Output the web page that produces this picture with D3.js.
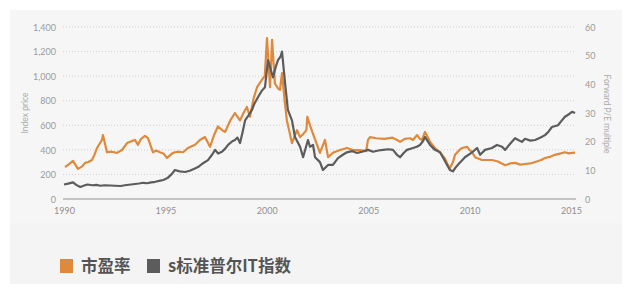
<!DOCTYPE html>
<html>
<head>
<meta charset="utf-8">
<script src="https://cdn.jsdelivr.net/npm/d3@7"></script>
<style>
  body { margin: 0; background: #fff; }
  svg { display: block; }
  .tick text { font-family: Lato, "Open Sans", sans-serif; }
</style>
</head>
<body>
<svg id="chart" width="638" height="298"></svg>
<script>
/* tick labels */
const yearTicks = [1990, 1995, 2000, 2005, 2010, 2015];
const priceTicks = [0, 200, 400, 600, 800, 1000, 1200, 1400];
const peTicks = [0, 10, 20, 30, 40, 50, 60];
const legendNames = ['市盈率', 's标准普尔IT指数'];

/* forward P/E multiple (right axis), [year, value] */
const peSeries = [
  [1990.05, 11.1], [1990.25, 12.2], [1990.44, 13.3], [1990.69, 10.5], [1990.9, 11.4],
  [1991.04, 12.6], [1991.2, 12.9], [1991.38, 13.6], [1991.5, 15.4], [1991.63, 17.8],
  [1991.87, 20.6], [1991.92, 22.3], [1992.12, 16.3], [1992.35, 16.5], [1992.61, 16.1],
  [1992.86, 17.1], [1993.11, 19.5], [1993.3, 20.1], [1993.5, 20.6], [1993.65, 18.9],
  [1993.8, 21.0], [1993.99, 22.0], [1994.14, 21.2], [1994.39, 16.3], [1994.55, 16.9],
  [1994.73, 16.3], [1994.9, 15.9], [1995.08, 14.3], [1995.25, 15.4], [1995.37, 16.1],
  [1995.6, 16.5], [1995.87, 16.3], [1996.11, 17.8], [1996.3, 18.4], [1996.46, 18.9],
  [1996.7, 20.6], [1996.95, 21.6], [1997.2, 18.2], [1997.4, 22.3], [1997.59, 25.3],
  [1997.8, 24.0], [1997.94, 23.4], [1998.2, 27.4], [1998.43, 30.0], [1998.55, 28.7],
  [1998.68, 27.4], [1998.85, 30.0], [1999.02, 32.1], [1999.17, 28.7], [1999.35, 35.1],
  [1999.52, 39.0], [1999.76, 41.6], [1999.9, 42.9], [2000.01, 56.1], [2000.16, 39.0],
  [2000.26, 55.5], [2000.4, 40.3], [2000.55, 38.6], [2000.65, 38.1], [2000.75, 43.9],
  [2000.88, 34.3], [2000.99, 27.4], [2001.1, 24.0], [2001.24, 19.5], [2001.39, 22.3],
  [2001.49, 24.0], [2001.64, 21.6], [2001.8, 22.7], [2001.95, 24.0], [2002.0, 28.7],
  [2002.13, 25.7], [2002.3, 22.3], [2002.48, 18.9], [2002.62, 16.1], [2002.87, 20.6],
  [2003.02, 14.6], [2003.26, 16.1], [2003.61, 17.1], [2003.95, 17.8], [2004.25, 17.1],
  [2004.6, 17.1], [2004.9, 16.7], [2004.99, 20.6], [2005.09, 21.6], [2005.4, 21.2],
  [2005.8, 21.0], [2006.2, 21.4], [2006.42, 20.6], [2006.57, 19.9], [2006.8, 21.0],
  [2007.06, 21.2], [2007.21, 20.6], [2007.41, 22.3], [2007.55, 21.0], [2007.65, 20.6],
  [2007.8, 23.4], [2007.95, 21.4], [2008.05, 19.9], [2008.29, 17.8], [2008.54, 16.3],
  [2008.79, 14.1], [2008.89, 12.4], [2009.03, 10.7], [2009.18, 12.9], [2009.28, 15.4],
  [2009.5, 17.1], [2009.63, 17.8], [2009.87, 18.2], [2010.0, 17.1], [2010.12, 16.3],
  [2010.27, 14.6], [2010.61, 13.6], [2011.1, 13.6], [2011.4, 13.1], [2011.75, 11.8],
  [2012.0, 12.4], [2012.24, 12.6], [2012.5, 12.0], [2012.73, 12.2], [2013.0, 12.4],
  [2013.23, 12.9], [2013.5, 13.5], [2013.72, 14.3], [2014.0, 14.8], [2014.21, 15.4],
  [2014.5, 15.9], [2014.7, 16.3], [2014.9, 15.9], [2015.05, 16.1], [2015.2, 16.2]
];

/* S&P IT index price (left axis), [year, value] */
const indexSeries = [
  [1990.0, 118], [1990.2, 125], [1990.45, 135], [1990.6, 115], [1990.8, 98],
  [1991.0, 110], [1991.15, 118], [1991.4, 112], [1991.6, 115], [1991.8, 108],
  [1992.0, 112], [1992.3, 110], [1992.5, 108], [1992.8, 106], [1993.0, 112],
  [1993.3, 118], [1993.5, 122], [1993.7, 126], [1993.9, 132], [1994.1, 128],
  [1994.3, 135], [1994.5, 140], [1994.75, 150], [1994.9, 155], [1995.1, 170],
  [1995.3, 200], [1995.47, 236], [1995.7, 225], [1995.97, 220], [1996.2, 230],
  [1996.4, 245], [1996.61, 260], [1996.8, 285], [1997.1, 317], [1997.3, 360],
  [1997.45, 400], [1997.6, 370], [1997.79, 385], [1997.95, 410], [1998.09, 440],
  [1998.3, 470], [1998.43, 480], [1998.55, 500], [1998.68, 455], [1998.8, 540],
  [1998.93, 640], [1999.1, 680], [1999.27, 725], [1999.4, 780], [1999.57, 830],
  [1999.75, 880], [1999.91, 910], [2000.06, 1130], [2000.2, 1050], [2000.31, 990],
  [2000.45, 1080], [2000.55, 1130], [2000.68, 1160], [2000.75, 1200], [2000.9, 945],
  [2001.04, 725], [2001.24, 640], [2001.39, 505], [2001.64, 425], [2001.79, 340],
  [2002.03, 480], [2002.13, 425], [2002.28, 440], [2002.38, 340], [2002.62, 300],
  [2002.77, 236], [2003.02, 277], [2003.26, 277], [2003.51, 333], [2003.75, 360],
  [2003.95, 380], [2004.2, 390], [2004.45, 375], [2004.7, 385], [2004.99, 400],
  [2005.24, 385], [2005.5, 395], [2005.73, 400], [2006.0, 405], [2006.22, 400],
  [2006.42, 360], [2006.57, 340], [2006.75, 375], [2006.91, 400], [2007.21, 415],
  [2007.4, 425], [2007.55, 440], [2007.7, 470], [2007.8, 505], [2008.05, 440],
  [2008.29, 400], [2008.54, 380], [2008.75, 320], [2008.89, 277], [2009.03, 236],
  [2009.18, 225], [2009.28, 250], [2009.43, 280], [2009.6, 310], [2009.77, 340],
  [2010.12, 380], [2010.37, 415], [2010.52, 360], [2010.76, 400], [2011.1, 415],
  [2011.35, 440], [2011.6, 425], [2011.75, 400], [2012.0, 450], [2012.24, 495],
  [2012.4, 480], [2012.58, 465], [2012.73, 490], [2013.0, 475], [2013.23, 480],
  [2013.5, 500], [2013.72, 520], [2013.9, 550], [2014.06, 586], [2014.36, 600],
  [2014.5, 630], [2014.7, 670], [2014.9, 690], [2015.05, 710], [2015.2, 700]
];

const orange = '#e0893b';
const grey = '#5c5c5c';

let svg = d3.select('#chart');

/* background panels */
svg.append('rect').attr('x', 10).attr('y', 10).attr('width', 612).attr('height', 213).attr('fill', '#f6f6f6');
svg.append('rect').attr('x', 10).attr('y', 223).attr('width', 612).attr('height', 61).attr('fill', '#f4f4f5');

/* scales */
let x = d3.scaleLinear().domain([1990, 2015]).range([64, 571]);
let yLeft = d3.scaleLinear().domain([0, 1400]).range([199, 27]);
let yRight = d3.scaleLinear().domain([0, 60]).range([199, 27]);

/* dotted gridlines */
svg.append('g')
    .selectAll('line')
    .data(priceTicks.filter(d => d > 0))
    .join('line')
    .attr('x1', 63).attr('x2', 576)
    .attr('y1', d => yLeft(d)).attr('y2', d => yLeft(d))
    .attr('stroke', '#cfcfcf')
    .attr('stroke-width', 1)
    .attr('stroke-dasharray', '1,2');

/* left axis */
let leftAxis = svg.append('g')
    .attr('transform', 'translate(56,0)')
    .call(d3.axisLeft(yLeft).tickValues(priceTicks).tickFormat(d3.format(',')).tickSize(0).tickPadding(0));
leftAxis.select('.domain').remove();
leftAxis.selectAll('text').attr('fill', '#9b9b9b').attr('font-size', 9).attr('dy', '0.35em');

/* right axis */
let rightAxis = svg.append('g')
    .attr('transform', 'translate(585,0)')
    .call(d3.axisRight(yRight).tickValues(peTicks).tickSize(0).tickPadding(0));
rightAxis.select('.domain').remove();
rightAxis.selectAll('text').attr('fill', '#9b9b9b').attr('font-size', 9).attr('dy', '0.35em');

/* bottom axis */
let bottomAxis = svg.append('g')
    .attr('transform', 'translate(0,208)')
    .call(d3.axisBottom(x).tickValues(yearTicks).tickFormat(d3.format('d')).tickSize(0).tickPadding(0));
bottomAxis.select('.domain').remove();
bottomAxis.selectAll('text').attr('fill', '#8f8f8f').attr('font-size', 9);

/* baseline */
svg.append('line')
    .attr('x1', 63).attr('x2', 576)
    .attr('y1', yLeft(0)).attr('y2', yLeft(0))
    .attr('stroke', '#c4c4c4')
    .attr('stroke-width', 2);

/* axis titles */
svg.append('text')
    .attr('transform', `translate(28,113) rotate(-90)`)
    .attr('text-anchor', 'middle')
    .attr('font-family', 'Lato, sans-serif')
    .attr('font-size', 8.5)
    .attr('fill', '#ababab')
    .text('Index price');
svg.append('text')
    .attr('transform', `translate(604,114) rotate(90)`)
    .attr('text-anchor', 'middle')
    .attr('font-family', 'Lato, sans-serif')
    .attr('font-size', 8.5)
    .attr('fill', '#ababab')
    .text('Forward P/E multiple');

/* lines */
let peLine = d3.line().x(d => x(d[0])).y(d => yRight(d[1]));
let indexLine = d3.line().x(d => x(d[0])).y(d => yLeft(d[1]));

svg.append('path')
    .datum(peSeries)
    .attr('d', peLine)
    .attr('fill', 'none')
    .attr('stroke', orange)
    .attr('stroke-width', 2.2)
    .attr('stroke-linejoin', 'round');
svg.append('path')
    .datum(indexSeries)
    .attr('d', indexLine)
    .attr('fill', 'none')
    .attr('stroke', grey)
    .attr('stroke-width', 2.2)
    .attr('stroke-linejoin', 'round');

/* legend */
let legendColors = [orange, grey];
let legendX = [60, 147];
let legend = svg.append('g').selectAll('g')
    .data(legendNames)
    .join('g')
    .attr('transform', (d, i) => `translate(${legendX[i]},259)`);
legend.append('rect')
    .attr('width', 13).attr('height', 14)
    .attr('fill', (d, i) => legendColors[i]);
legend.append('text')
    .attr('x', 21).attr('y', 13)
    .attr('font-family', '"Noto Sans CJK SC", sans-serif')
    .attr('font-weight', 'bold')
    .attr('font-size', 16.5)
    .attr('fill', '#545454')
    .text(d => d);
</script>
</body>
</html>
